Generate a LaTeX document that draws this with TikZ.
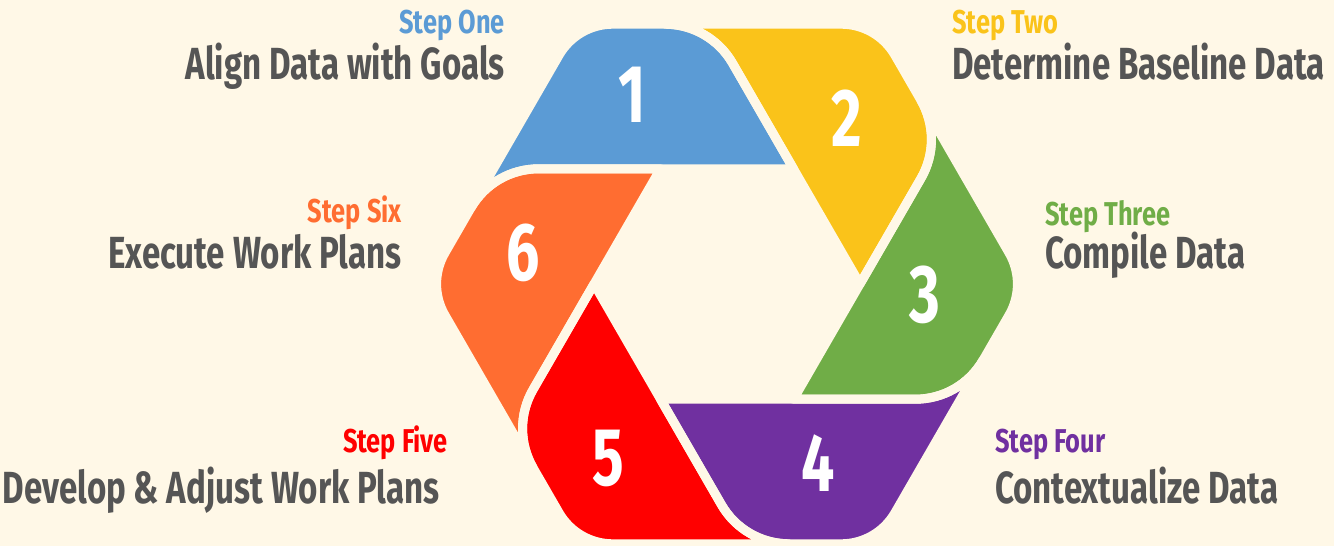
\documentclass[tikz,border=0pt]{standalone}
\usepackage{fontspec}
\newfontfamily\osw{Fira Sans}[FakeStretch=0.72]
\newfontfamily\oswT{Fira Sans}[FakeStretch=0.735]
\newfontfamily\oswS{Fira Sans}[FakeStretch=0.77]
\definecolor{bgc}{HTML}{FFF8E7}
\definecolor{cblue}{HTML}{5B9BD5}
\definecolor{cyellow}{HTML}{FAC31A}
\definecolor{cgreen}{HTML}{70AD47}
\definecolor{cpurple}{HTML}{7030A0}
\definecolor{cred}{HTML}{FF0000}
\definecolor{corange}{HTML}{FF6D31}
\definecolor{tgray}{HTML}{555555}
\pgfmathsetmacro\HexS{300}
\pgfmathsetmacro\HexD{17}
\pgfmathsetmacro\RB{78}
\pgfmathsetmacro\RV{62}
\pgfmathsetmacro\HexH{\HexS*0.866025}
\pgfmathsetmacro\Rin{\HexS/2-\HexD}
\pgfmathsetmacro\TB{\RB/1.732051}
\pgfmathsetmacro\TV{\RV/1.732051}
\pgfmathsetmacro\YB{\Rin*0.866025}
\pgfmathsetmacro\MLx{-\HexD/2-0.75*\HexS}
\pgfmathsetmacro\QtwoX{\MLx+\TB}
\pgfmathsetmacro\PoneX{\Rin/2}
\pgfmathsetmacro\ToneX{-\HexD+\TB/2}
\pgfmathsetmacro\ToneY{\HexH-\TB*0.866025}
\pgfmathsetmacro\VTX{-\HexS/2+\TV}
\pgfmathsetmacro\QoneX{\MLx+\TB-0.866025*\RB}
\pgfmathsetmacro\QoneY{\YB-\RB/2}
\tikzset{
  segshape/.style={insert path={(\QtwoX,\YB) -- (\PoneX,\YB) -- (\ToneX,\ToneY)
     arc[start angle=30,end angle=90,radius=\RB] -- (\VTX,\HexH)
     arc[start angle=90,end angle=150,radius=\RV] -- (\QoneX,\QoneY)
     arc[start angle=150,end angle=90,radius=\RB] -- cycle}},
  segline/.style={draw=bgc, line width=9pt, line join=round},
  steplab/.style={inner sep=0pt, font={\oswS\bfseries\fontsize{33}{33}\selectfont}},
  titlelab/.style={inner sep=0pt, text=tgray, font={\oswT\bfseries\fontsize{45}{45}\selectfont}},
  numlab/.style={inner sep=0pt, text=white, font={\osw\bfseries\fontsize{82}{82}\selectfont}}
}
\begin{document}
\begin{tikzpicture}[x=1pt,y=1pt]
\useasboundingbox (0,0) rectangle (1334,-546);
\fill[bgc] (0,0) rectangle (1334,-546);
\begin{scope}[shift={(727,-284)}]
  \foreach \k/\c in {0/cblue,1/cyellow,2/cgreen,3/cpurple,4/cred,5/corange}{
    \fill[\c, rotate=-60*\k, segshape];
  }
  \foreach \k in {0,...,5}{
    \path[segline, rotate=-60*\k, segshape];
  }
\end{scope}
\node[numlab] (n1) at (632,-95) {1};
\node[numlab] (n2) at (847,-118) {2};
\node[numlab] (n3) at (925,-295) {3};
\node[numlab] (n4) at (818,-463) {4};
\node[numlab] (n5) at (608,-458) {5};
\node[numlab] (n6) at (523,-253) {6};
\node[steplab, text=cblue, anchor=base east] (s1) at (505,-34) {Step One};
\node[titlelab, anchor=base east] (t1) at (505,-79) {Align Data with Goals};
\node[steplab, text=cyellow, anchor=base west] (s2) at (952,-34) {Step Two};
\node[titlelab, anchor=base west] (t2) at (952,-79) {Determine Baseline Data};
\node[steplab, text=cgreen, anchor=base west] (s3) at (1045,-225) {Step Three};
\node[titlelab, anchor=base west] (t3) at (1045,-268) {Compile Data};
\node[steplab, text=cpurple, anchor=base west] (s4) at (995,-452) {Step Four};
\node[titlelab, anchor=base west] (t4) at (995,-503) {Contextualize Data};
\node[steplab, text=cred, anchor=base east] (s5) at (448,-452) {Step Five};
\node[titlelab, anchor=base east] (t5) at (440,-503) {Develop \& Adjust Work Plans};
\node[steplab, text=corange, anchor=base east] (s6) at (402,-222) {Step Six};
\node[titlelab, anchor=base east] (t6) at (402,-268) {Execute Work Plans};
\end{tikzpicture}
\end{document}
